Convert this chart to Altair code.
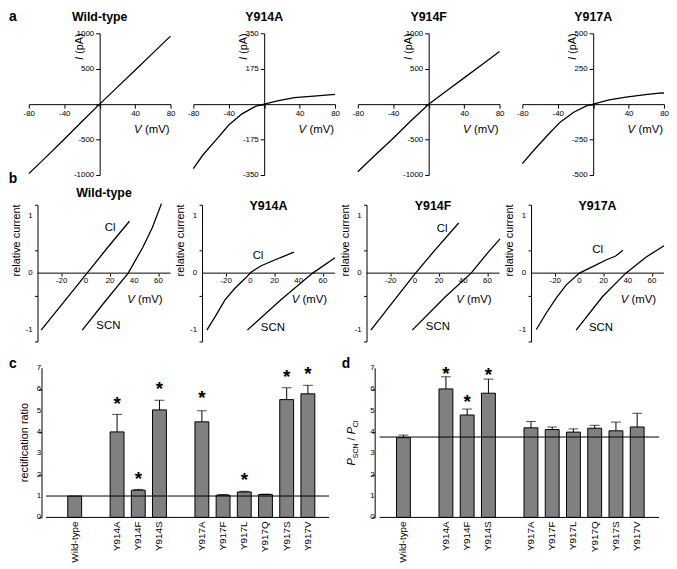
import pandas as pd
import altair as alt

FONT = "Liberation Sans"

# ---------------- a : whole-cell I-V relations ----------------
A_NAMES = ["Wild-type", "Y914A", "Y914F", "Y917A"]
A_IMAX = [1000, 350, 1000, 500]
A_XTICKS = [-80, -40, 0, 40, 80]

WT_A_V = [-80, -60, -40, -20, 0, 20, 40, 60, 80]
WT_A_I = [-980, -740, -495, -245, 0, 240, 478, 720, 960]
Y914A_A_V = [-80, -69, -54, -40, -25, -10, 0, 15, 34, 56, 80]
Y914A_A_I = [-318, -250, -175, -103, -48, -11, 0, 16, 32, 40, 48]
Y914F_A_V = [-80, -60, -40, -20, 0, 20, 40, 60, 80]
Y914F_A_I = [-955, -715, -480, -235, 0, 186, 371, 557, 742]
Y917A_A_V = [-80, -66, -51, -37, -22, -7, 0, 18, 37, 59, 77, 80]
Y917A_A_I = [-420, -318, -216, -125, -57, -11, 0, 30, 50, 68, 80, 78]

# ---------------- b : relative current, Cl vs SCN ----------------
B_NAMES = ["Wild-type", "Y914A", "Y914F", "Y917A"]
B_XTICKS = [-20, 0, 20, 40, 60]
B_YTICKS = [-1.2, -1.0, -0.8, -0.6, -0.4, -0.2, 0.0, 0.2, 0.4, 0.6, 0.8, 1.0, 1.2]
B_YLABELS = [-1, 0, 1]

WT_CL_V = [-37, -18, 1, 18, 36]
WT_CL_R = [-1.0, -0.5, 0.0, 0.45, 0.91]
WT_SCN_V = [-3, 15, 35, 47, 55, 62.5]
WT_SCN_R = [-1.0, -0.52, 0.0, 0.45, 0.8, 1.22]
Y914A_CL_V = [-36, -29, -21, -13, -4.7, 0.8, 9, 20, 28, 36]
Y914A_CL_R = [-1.0, -0.76, -0.47, -0.27, -0.10, 0.02, 0.13, 0.23, 0.30, 0.37]
Y914A_SCN_V = [-2.5, 25, 51.5, 70]
Y914A_SCN_R = [-1.0, -0.47, 0.0, 0.27]
Y914F_CL_V = [-36.4, -18, 0.5, 18, 36.2]
Y914F_CL_R = [-1.0, -0.5, 0.0, 0.44, 0.88]
Y914F_SCN_V = [-2.2, 25, 46.5, 60, 70.4]
Y914F_SCN_R = [-1.0, -0.42, 0.0, 0.35, 0.60]
Y917A_CL_V = [-35.6, -27.4, -19.2, -11, 0, 11, 22, 30, 36]
Y917A_CL_R = [-0.99, -0.70, -0.44, -0.21, 0.0, 0.115, 0.23, 0.30, 0.40]
Y917A_SCN_V = [-2.7, 19.2, 38.4, 55, 70]
Y917A_SCN_R = [-1.0, -0.41, 0.0, 0.28, 0.48]

B_CL_LABEL_V = [20, 6.3, 22.5, 15]
B_CL_LABEL_R = [0.8, 0.30, 0.78, 0.40]
B_SCN_LABEL_V = [18.6, 18.6, 19, 17.8]
B_SCN_LABEL_R = [-0.93, -0.96, -0.94, -0.96]

# ---------------- c / d : bar charts ----------------
MUTANTS = ["Wild-type", "Y914A", "Y914F", "Y914S", "Y917A",
           "Y917F", "Y917L", "Y917Q", "Y917S", "Y917V"]
RECT_RATIO = [1.0, 4.0, 1.27, 5.03, 4.47, 1.04, 1.19, 1.07, 5.51, 5.78]
RECT_SEM = [0.0, 0.82, 0.04, 0.45, 0.52, 0.03, 0.03, 0.02, 0.55, 0.40]
RECT_STAR = [None, 5.48, 1.98, 6.21, 5.75, None, 1.95, None, 6.77, 6.88]
RECT_REF = 1.0
PERM_RATIO = [3.73, 6.01, 4.79, 5.81, 4.19, 4.11, 3.99, 4.17, 4.05, 4.23]
PERM_SEM = [0.12, 0.57, 0.28, 0.66, 0.30, 0.12, 0.15, 0.14, 0.41, 0.64]
PERM_STAR = [None, 6.9, 5.6, 6.85, None, None, None, None, None, None]
PERM_REF = 3.76
BAR_YTICKS = [0, 1, 2, 3, 4, 5, 6, 7]

# ---------------- layout / style ----------------
WA, HA = 143, 143
WB, HB = 143, 138
SP_COL = 23
XB_DOM = [-47.2, 70]
XB_AXIS = -40
WC, WD, HC = 308, 292, 151
C_DOM = [-1.93, 12]
C_AXIS = -1.35
D_DOM = [-1.12, 12.03]
D_AXIS = -1.12

ONE = pd.DataFrame({"k": [0]})
AXS = dict(grid=False, labelFont=FONT, labelFontSize=8, labelColor="black",
           domainColor="black", tickColor="black", domainWidth=1, tickWidth=1,
           labelFlush=False, labelOverlap=False)
HIDE0 = "datum.value == 0 ? '' : '' + datum.value"


def txt(s, x, y, size=11.0, weight="normal", style="normal", angle=0,
        align="center", baseline="middle"):
    return alt.Chart(ONE).mark_text(
        text=s, font=FONT, fontSize=size, fontWeight=weight, fontStyle=style,
        angle=angle, align=align, baseline=baseline, color="black"
    ).encode(x=alt.value(x), y=alt.value(y))


def tick_labels(xs, ys, xfield, yfield, align, baseline, dx=0, dy=0, axis_none=False):
    df = pd.DataFrame({xfield: xs, yfield: ys,
                       "lab": [str(v) for v in (ys if align == "right" else xs)]})
    kw = {"axis": None} if axis_none else {}
    return alt.Chart(df).mark_text(font=FONT, fontSize=8, color="black", align=align,
                                   baseline=baseline, dx=dx, dy=dy).encode(
        x=alt.X(f"{xfield}:Q", title=None, **kw),
        y=alt.Y(f"{yfield}:Q", title=None), text="lab:N")


A_V = [WT_A_V, Y914A_A_V, Y914F_A_V, Y917A_A_V]
A_I = [WT_A_I, Y914A_A_I, Y914F_A_I, Y917A_A_I]


def panel_a(i):
    m = A_IMAX[i]
    df = pd.DataFrame({"V": A_V[i], "I": A_I[i]})
    x = alt.X("V:Q", title=None,
              scale=alt.Scale(domain=[-80, 80], nice=False, zero=False),
              axis=alt.Axis(values=A_XTICKS, offset=-HA / 2, tickSize=4,
                            labelPadding=1, labelExpr=HIDE0, **AXS))
    y = alt.Y("I:Q", title=None,
              scale=alt.Scale(domain=[-m, m], nice=False, zero=False),
              axis=alt.Axis(values=[-m, -m // 2, 0, m // 2, m], offset=-WA / 2,
                            tickSize=4, labelPadding=2, labelExpr=HIDE0, **AXS))
    curve = alt.Chart(df).mark_line(color="black", strokeWidth=1.3).encode(x=x, y=y)
    layers = [
        curve,
        txt(A_NAMES[i], WA / 2, -16, size=12.5, weight="bold"),
        txt("V", WA - 1 - 28.1, HA / 2 + 26, size=11.5, style="italic", align="right"),
        txt("(mV)", WA - 1, HA / 2 + 26, size=11.5, align="right"),
        txt("I", WA / 2 - 20, 27, size=11, style="italic", angle=270, align="left"),
        txt("(pA)", WA / 2 - 20, 20.8, size=11, angle=270, align="left"),
    ]
    if i == 0:
        layers.append(txt("a", -16, -16, size=14, weight="bold"))
    return alt.layer(*layers).properties(width=WA, height=HA)


B_CL_V = [WT_CL_V, Y914A_CL_V, Y914F_CL_V, Y917A_CL_V]
B_CL_R = [WT_CL_R, Y914A_CL_R, Y914F_CL_R, Y917A_CL_R]
B_SCN_V = [WT_SCN_V, Y914A_SCN_V, Y914F_SCN_V, Y917A_SCN_V]
B_SCN_R = [WT_SCN_R, Y914A_SCN_R, Y914F_SCN_R, Y917A_SCN_R]


def panel_b(i):
    ext = (XB_AXIS - XB_DOM[0]) / (XB_DOM[1] - XB_DOM[0]) * WB
    df = pd.concat([
        pd.DataFrame({"V": B_CL_V[i], "R": B_CL_R[i], "ion": "Cl"}),
        pd.DataFrame({"V": B_SCN_V[i], "R": B_SCN_R[i], "ion": "SCN"}),
    ])
    xs = alt.Scale(domain=XB_DOM, nice=False, zero=False)
    ys = alt.Scale(domain=[-1.2, 1.2], nice=False, zero=False)
    x = alt.X("V:Q", title=None, scale=xs,
              axis=alt.Axis(values=B_XTICKS, offset=-HB / 2, domain=False, tickSize=3,
                            labels=False, **AXS))
    y = alt.Y("R:Q", title=None, scale=ys,
              axis=alt.Axis(values=B_YTICKS, offset=-ext, tickSize=3, labels=False, **AXS))
    curves = alt.Chart(df).mark_line(color="black", strokeWidth=1.3).encode(
        x=x, y=y, detail="ion:N")
    axline = alt.Chart(pd.DataFrame({"V": [XB_AXIS], "V2": [XB_DOM[1]], "R": [0.0]})).mark_rule(
        color="black", strokeWidth=1).encode(
        x=alt.X("V:Q", title=None), x2="V2:Q", y=alt.Y("R:Q", title=None))
    labs = pd.DataFrame({"V": [B_CL_LABEL_V[i], B_SCN_LABEL_V[i]],
                         "R": [B_CL_LABEL_R[i], B_SCN_LABEL_R[i]],
                         "lab": ["Cl", "SCN"]})
    labels = alt.Chart(labs).mark_text(font=FONT, fontSize=11.5, color="black").encode(
        x=alt.X("V:Q", title=None), y=alt.Y("R:Q", title=None), text="lab:N")
    xl = tick_labels(B_XTICKS, [0.0] * len(B_XTICKS), "V", "R", "center", "top", dy=4)
    yl = tick_labels([XB_AXIS] * len(B_YLABELS), B_YLABELS, "V", "R", "right", "middle", dx=-5)
    cx = ext + (WB - ext) / 2
    layers = [
        curves, axline, labels, xl, yl,
        txt(B_NAMES[i], cx, -12 if i == 0 else 1, size=12.5, weight="bold"),
        txt("V", WB - 8 - 28.1, HB / 2 + 27, size=11.5, style="italic", align="right"),
        txt("(mV)", WB - 8, HB / 2 + 27, size=11.5, align="right"),
        txt("relative current", ext - 21, 36, size=11, angle=270),
    ]
    if i == 0:
        layers.append(txt("b", -16, -26, size=14, weight="bold"))
    return alt.layer(*layers).properties(width=WB, height=HB)


def slot_positions(names):
    out, s, prev = [], -1, None
    for n in names:
        g = n[:4]
        s += 1 if (prev is None or g == prev) else 2
        prev = g
        out.append(s)
    return out


SLOTS = slot_positions(MUTANTS)


def bar_panel(vals, sems, stars, ref, W, dom, axis_at, letter):
    ext = (axis_at - dom[0]) / (dom[1] - dom[0]) * W
    df = pd.DataFrame({"slot": SLOTS, "val": vals, "name": MUTANTS,
                       "top": [v + e for v, e in zip(vals, sems)], "sem": sems})
    err = df[df["sem"] > 0]
    st = pd.DataFrame({"slot": SLOTS, "star": stars}).dropna()
    xs = alt.Scale(domain=dom, nice=False, zero=False)
    ys = alt.Scale(domain=[0, 7], nice=False, zero=False)
    x = alt.X("slot:Q", title=None, scale=xs, axis=None)
    y = alt.Y("val:Q", title=None, scale=ys,
              axis=alt.Axis(values=BAR_YTICKS, offset=-ext, tickSize=3, labels=False, **AXS))
    bars = alt.Chart(df).mark_bar(size=14, fill="#808080", stroke="black",
                                  strokeWidth=1, orient="vertical").encode(x=x, y=y)
    xe = alt.X("slot:Q", title=None, axis=None)
    names = alt.Chart(df).mark_text(font=FONT, fontSize=10, angle=270, align="right",
                                    baseline="middle", color="black").encode(
        x=xe, y=alt.value(HC + 4), text="name:N")
    stems = alt.Chart(err).mark_rule(color="black", strokeWidth=1).encode(
        x=xe, y=alt.Y("val:Q", title=None), y2="top:Q")
    caps = alt.Chart(err).mark_tick(orient="horizontal", size=10, thickness=1,
                                    color="black").encode(x=xe, y=alt.Y("top:Q", title=None))
    stars_l = alt.Chart(st).mark_text(text="*", font=FONT, fontSize=19, fontWeight="bold",
                                      baseline="alphabetic", dy=10, color="black").encode(
        x=xe, y=alt.Y("star:Q", title=None))
    rules = alt.Chart(pd.DataFrame({"x": [axis_at, axis_at], "x2": [dom[1], dom[1]],
                                    "y": [0.0, ref]})).mark_rule(
        color="black", strokeWidth=1).encode(
        x=alt.X("x:Q", title=None, axis=None), x2="x2:Q", y=alt.Y("y:Q", title=None))
    yl = tick_labels([axis_at] * len(BAR_YTICKS), BAR_YTICKS, "x", "y", "right", "middle",
                     dx=-5, axis_none=True)
    layers = [bars, stems, caps, rules, stars_l, names, yl,
              txt(letter, ext - 29, -4, size=14, weight="bold")]
    return layers, ext


c_layers, c_ext = bar_panel(RECT_RATIO, RECT_SEM, RECT_STAR, RECT_REF, WC, C_DOM, C_AXIS, "c")
c_layers.append(txt("rectification ratio", c_ext - 17, HC / 2, size=11, angle=270))
panel_c = alt.layer(*c_layers).properties(width=WC, height=HC)

d_layers, d_ext = bar_panel(PERM_RATIO, PERM_SEM, PERM_STAR, PERM_REF, WD, D_DOM, D_AXIS, "d")
d_layers += [
    txt("P", d_ext - 20, 98.5, size=11, style="italic", angle=270, align="left", baseline="alphabetic"),
    txt("SCN", d_ext - 17, 91.2, size=7, angle=270, align="left", baseline="alphabetic"),
    txt("/", d_ext - 20, 71.8, size=11, angle=270, align="center", baseline="alphabetic"),
    txt("P", d_ext - 20, 67.2, size=11, style="italic", angle=270, align="left", baseline="alphabetic"),
    txt("Cl", d_ext - 17, 59.9, size=7, angle=270, align="left", baseline="alphabetic"),
]
panel_d = alt.layer(*d_layers).properties(width=WD, height=HC)

row_a = alt.hconcat(*[panel_a(i) for i in range(4)], spacing=SP_COL, bounds="flush")
row_b = alt.hconcat(*[panel_b(i) for i in range(4)], spacing=SP_COL, bounds="flush")
row_cd = alt.hconcat(panel_c, panel_d, spacing=41, bounds="flush")
upper = alt.vconcat(row_a, row_b, spacing=-7)
chart = alt.vconcat(upper, row_cd, spacing=14.5).properties(
    padding=0
).configure_view(strokeWidth=0)

chart.save("out.html", embed_options={"renderer": "svg", "actions": False})
